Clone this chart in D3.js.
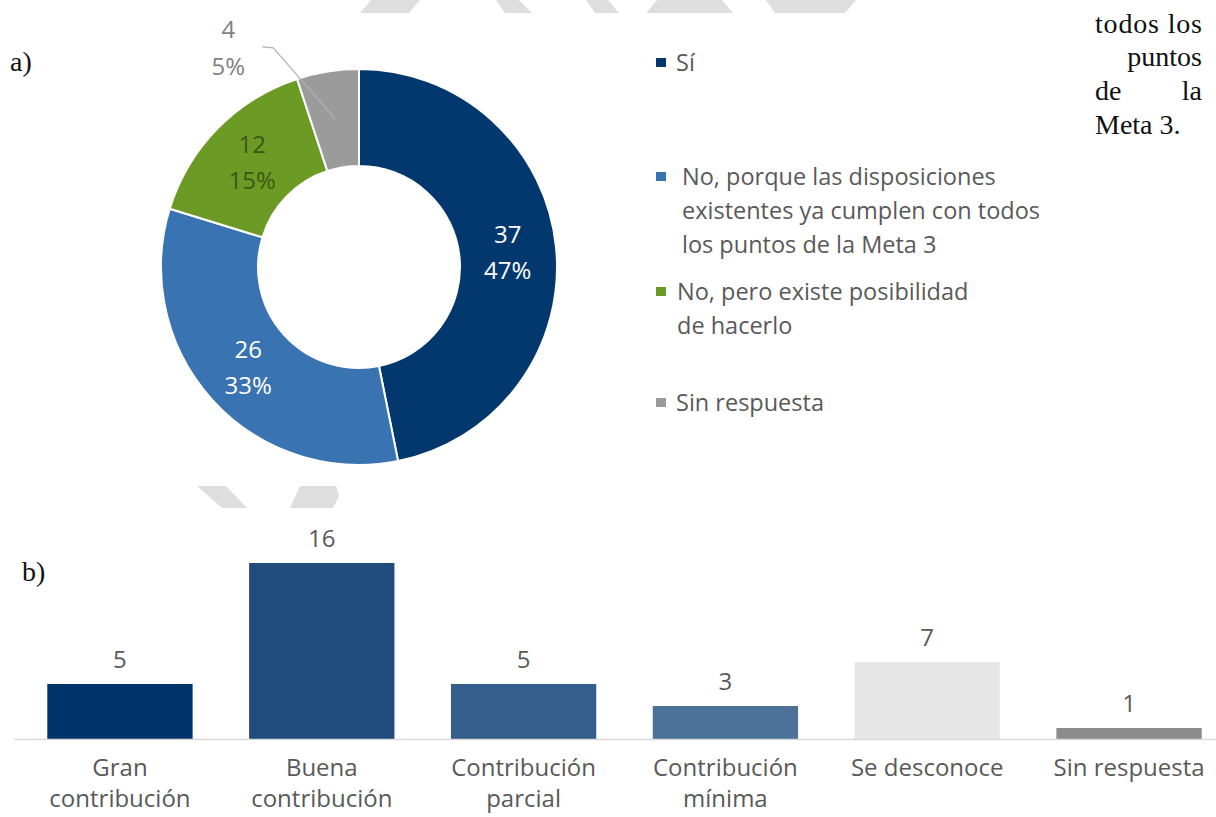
<!DOCTYPE html>
<meta charset="utf-8">
<style>
body { margin: 0; background: #fff; }
svg { display: block; }
.serif { font-family: "Liberation Serif", "DejaVu Serif", serif; font-size: 28px; fill: #111; }
.lbl { font-family: "Open Sans", "Noto Sans", sans-serif; fill: #595959; }
.axis path { stroke: #d9d9d9; stroke-width: 1.5; }
</style>
<svg width="1216" height="817"></svg>
<script src="https://cdn.jsdelivr.net/npm/d3@7"></script>
<script>

// a) donut data
var pieNames = ["Sí", "No, porque las disposiciones existentes ya cumplen con todos los puntos de la Meta 3",
                "No, pero existe posibilidad de hacerlo", "Sin respuesta"];
var pieValues = [37, 26, 12, 4];
var pieColors = ["#03386e", "#3a73b2", "#6b9b24", "#9b9b9b"];
var legendLines = [["Sí"],
                   ["No, porque las disposiciones", "existentes ya cumplen con todos", "los puntos de la Meta 3"],
                   ["No, pero existe posibilidad", "de hacerlo"],
                   ["Sin respuesta"]];

// b) bar data
var barCats = [["Gran", "contribución"], ["Buena", "contribución"], ["Contribución", "parcial"],
               ["Contribución", "mínima"], ["Se desconoce"], ["Sin respuesta"]];
var barValues = [5, 16, 5, 3, 7, 1];
var barColors = ["#00346a", "#1f4b7d", "#345f8c", "#4d729a", "#e6e6e6", "#8c8c8c"];

var svg = d3.select("svg");

// watermark fragments behind everything
var marks = [
  [[371,0],[420,0],[409,13],[360,13]],
  [[496,0],[519,0],[532,13],[505,13]],
  [[586,0],[608,0],[619,13],[595,13]],
  [[657,0],[722,0],[733,13],[646,13]],
  [[766,0],[856,0],[845,13],[775,13]],
  [[197,486],[226,486],[247,508],[222,508]],
  [[300,486],[336,486],[339,496],[333,508],[290,508]]
];
svg.append("g").selectAll("path").data(marks).enter().append("path")
    .attr("d", function(d) { return "M" + d.join("L") + "Z"; })
    .attr("fill", "#dedede");

// surrounding document text
svg.append("text").attr("class", "serif").attr("x", 10).attr("y", 71).text("a)");
svg.append("text").attr("class", "serif").attr("x", 22).attr("y", 581).text("b)");
svg.append("text").attr("class", "serif").attr("x", 1095).attr("y", 33)
    .attr("textLength", 107).attr("lengthAdjust", "spacing").text("todos los");
svg.append("text").attr("class", "serif").attr("x", 1202).attr("y", 66)
    .attr("text-anchor", "end").text("puntos");
svg.append("text").attr("class", "serif").attr("x", 1095).attr("y", 100).text("de");
svg.append("text").attr("class", "serif").attr("x", 1202).attr("y", 100)
    .attr("text-anchor", "end").text("la");
svg.append("text").attr("class", "serif").attr("x", 1095).attr("y", 134).text("Meta 3.");

// ---- donut ----
var cx = 359, cy = 267, rOut = 198, rIn = 101;
var total = d3.sum(pieValues);
var pie = d3.pie().sort(null);
var arc = d3.arc().innerRadius(rIn).outerRadius(rOut);
var arcs = pie(pieValues);

var dg = svg.append("g").attr("transform", "translate(" + cx + "," + cy + ")");

dg.selectAll(".slice").data(arcs).enter().append("path")
    .attr("class", "slice")
    .attr("d", arc)
    .attr("fill", function(d, i) { return pieColors[i]; })
    .attr("stroke", "#fff")
    .attr("stroke-width", 2);

var pct = function(v) { return Math.round(v / total * 100) + "%"; };
var labelColors = ["#ffffff", "#ffffff", "#3d5716", "#7f7f7f"];

// inside labels for the three big slices
dg.selectAll(".plabel").data(arcs.slice(0, 3)).enter().append("text")
    .attr("class", "lbl")
    .attr("font-size", 24)
    .attr("text-anchor", "middle")
    .style("fill", function(d, i) { return labelColors[i]; })
    .each(function(d) {
      var c = arc.centroid(d), t = d3.select(this);
      t.append("tspan").attr("x", c[0]).attr("y", c[1] - 18).attr("dy", "0.36em").text(d.value);
      t.append("tspan").attr("x", c[0]).attr("y", c[1] + 18).attr("dy", "0.36em").text(pct(d.value));
    });

// callout for the small slice
var small = arcs[3];
var inner = d3.arc().innerRadius(150).outerRadius(150).centroid(small);
var kink = [inner[0] - 62, inner[1] - 71];
dg.append("polyline")
    .attr("points", [inner, kink, [kink[0] - 11, kink[1] - 1]].join(" "))
    .attr("fill", "none")
    .attr("stroke", "#b3b3b3")
    .attr("stroke-width", 1.2);
var ct = dg.append("text").attr("class", "lbl").attr("font-size", 24)
    .attr("text-anchor", "middle").style("fill", labelColors[3]);
ct.append("tspan").attr("x", kink[0] - 45).attr("y", kink[1] - 19).attr("dy", "0.36em").text(small.value);
ct.append("tspan").attr("x", kink[0] - 45).attr("y", kink[1] + 18).attr("dy", "0.36em").text(pct(small.value));

// legend
var legendY = [63, 177, 292, 403];
var legendX = [676, 682, 677, 676];
var lg = svg.append("g");
legendLines.forEach(function(lines, i) {
  lg.append("rect")
      .attr("x", 656).attr("y", legendY[i] - 5)
      .attr("width", 10).attr("height", 9)
      .attr("fill", pieColors[i]);
  var t = lg.append("text").attr("class", "lbl").attr("font-size", 23.5);
  lines.forEach(function(s, j) {
    t.append("tspan").attr("x", legendX[i]).attr("y", legendY[i] + j * 34)
        .attr("dy", "0.36em").text(s);
  });
});

// ---- bars ----
var baseY = 739, topY = 563;
var x = d3.scaleBand().domain(d3.range(barValues.length))
    .range([14, 1235]).paddingInner(0.28).paddingOuter(0.165);
var y = d3.scaleLinear().domain([0, 16]).range([baseY, topY]);

var bg = svg.append("g");
bg.selectAll(".bar").data(barValues).enter().append("rect")
    .attr("class", "bar")
    .attr("x", function(d, i) { return x(i); })
    .attr("y", function(d) { return y(d); })
    .attr("width", x.bandwidth())
    .attr("height", function(d) { return baseY - y(d); })
    .attr("fill", function(d, i) { return barColors[i]; });

bg.append("g")
    .attr("class", "axis")
    .attr("transform", "translate(0," + baseY + ")")
    .call(d3.axisBottom(x).tickSize(0).tickSizeOuter(0).tickFormat(""));

bg.selectAll(".val").data(barValues).enter().append("text")
    .attr("class", "lbl")
    .attr("font-size", 24)
    .attr("text-anchor", "middle")
    .attr("x", function(d, i) { return x(i) + x.bandwidth() / 2; })
    .attr("y", function(d) { return y(d) - 25; })
    .attr("dy", "0.36em")
    .text(function(d) { return d; });

bg.selectAll(".cat").data(barCats).enter().append("text")
    .attr("class", "lbl")
    .attr("font-size", 24)
    .attr("text-anchor", "middle")
    .each(function(lines, i) {
      var t = d3.select(this), cxb = x(i) + x.bandwidth() / 2;
      lines.forEach(function(s, j) {
        t.append("tspan").attr("x", cxb).attr("y", 767 + j * 31).attr("dy", "0.36em").text(s);
      });
    });

</script>
